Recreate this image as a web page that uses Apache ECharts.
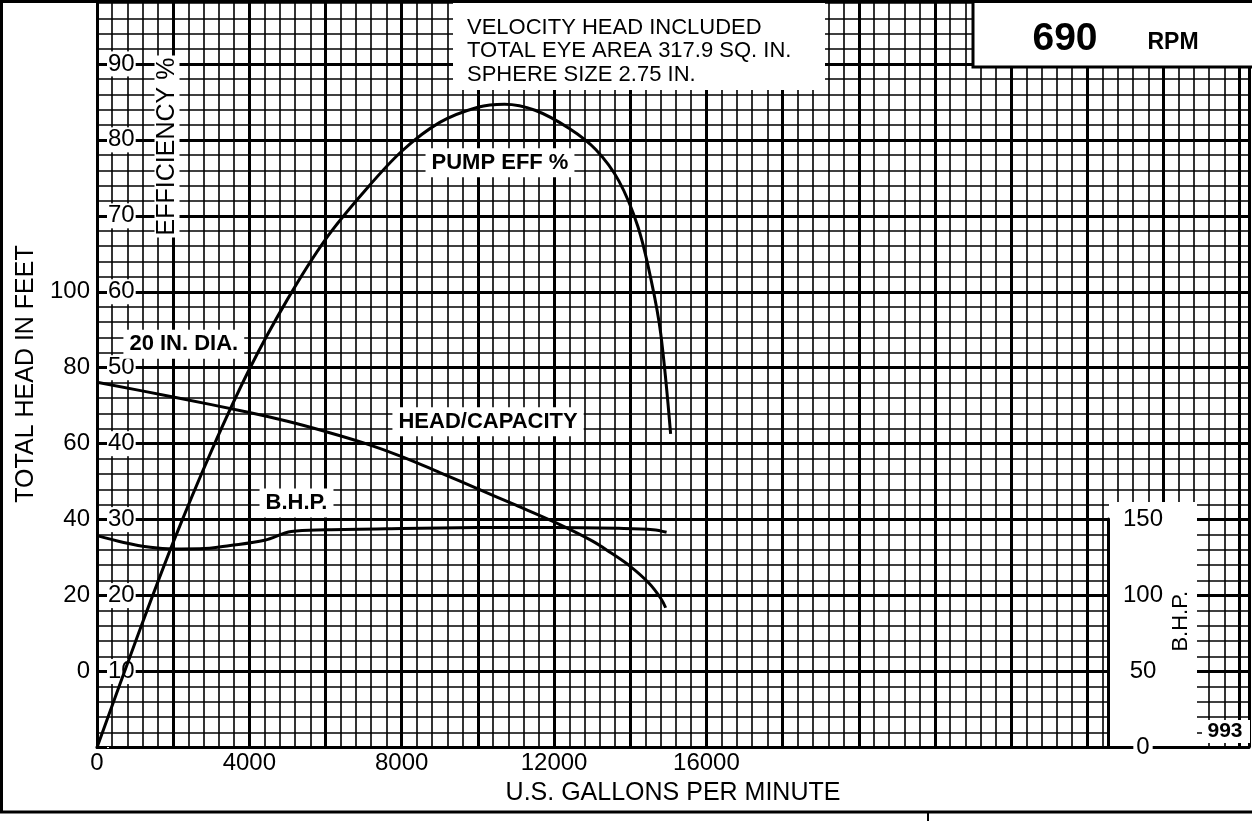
<!DOCTYPE html>
<html><head><meta charset="utf-8">
<script src="https://cdn.jsdelivr.net/npm/echarts@6/dist/echarts.min.js"></script>
<style>html,body{margin:0;padding:0;background:#fff}#c{width:1252px;height:821px}</style>
</head><body><div id="c"></div>
<script>
// ---- tick labels ----
const gpmTicks = [0, 4000, 8000, 12000, 16000];
const headTicks = [0, 20, 40, 60, 80, 100];
const effTicks = [10, 20, 30, 40, 50, 60, 70, 80, 90];
const bhpTicks = [0, 50, 100, 150];

// ---- curves: [US gallons per minute, value] ----
const effCurve = [[0,0],[1000,13.8],[2000,27.0],[3000,39.0],[4000,49.8],[5000,59.0],[6000,66.9],[7000,73.1],[8000,78.5],[9000,82.3],[10000,84.3],[10700,84.7],[11500,83.9],[12400,81.5],[13100,78.7],[13700,74.6],[14200,68.6],[14550,61.5],[14800,54.5],[15060,41.3]];
const headCurve = [[0,76.2],[2000,72.3],[4000,68.2],[5000,65.9],[6000,63.2],[7000,60.2],[8000,56.6],[9000,52.4],[10000,48.1],[11000,43.8],[12000,39.4],[13000,34.4],[13500,31.2],[14000,27.7],[14500,23.2],[14800,19.3],[14930,16.8]];
const bhpCurve = [[0,139.5],[700,135.0],[1400,131.8],[2000,130.7],[2700,130.8],[3500,133.0],[4400,136.4],[5100,142.2],[6000,143.3],[8000,144.2],[10000,144.8],[12000,144.9],[13700,144.3],[14600,143.4],[14954,141.7]];

// ---- texts ----
const notes = ['VELOCITY HEAD INCLUDED', 'TOTAL EYE AREA 317.9 SQ. IN.', 'SPHERE SIZE 2.75 IN.'];
const rpmValue = '690';
const rpmUnit = 'RPM';
const diaLabel = '20 IN. DIA.';
const modelNo = '993';

// ---- axis extents (scale only) ----
const GPM_MAX = 30245;
const EFF_MAX = 98.35;
const HEAD_MIN = -20, HEAD_MAX = EFF_MAX * 2 - 20;
const BHP_MAX = EFF_MAX * 5;

const FONT = "'Liberation Sans', Arial, Helvetica, sans-serif";
const black = '#000';

const chart = echarts.init(document.getElementById('c'), null, {renderer: 'canvas'});

function labelPoint(items) {
  return {
    symbol: 'rect', symbolSize: [1, 1], itemStyle: {color: 'rgba(0,0,0,0)'},
    label: {show: true, position: 'inside', formatter: '{b}', color: black, fontFamily: FONT,
      fontSize: 22, fontWeight: 'bold', backgroundColor: '#fff', padding: [4, 6, 3, 6]},
    data: items
  };
}

const option = {
  backgroundColor: '#fff',
  animation: false,
  textStyle: {fontFamily: FONT, color: black},
  grid: [
    {left: 97, right: 0, top: 0, bottom: 73.5, containLabel: false},
    {left: 1000, right: 144, top: 519, bottom: 73.5, containLabel: false}
  ],
  xAxis: [
    {type: 'value', gridIndex: 0, position: 'bottom', min: 0, max: GPM_MAX, interval: 4000,
      axisLine: {show: true, onZero: false, lineStyle: {color: black, width: 3}},
      axisTick: {show: false}, splitLine: {show: false},
      axisLabel: {fontSize: 24, color: black, fontFamily: FONT, margin: 4,
        formatter: v => gpmTicks.includes(v) ? String(v) : ''},
      name: 'U.S. GALLONS PER MINUTE', nameLocation: 'middle', nameGap: 33,
      nameTextStyle: {fontSize: 25, color: black, fontFamily: FONT}},
    {type: 'value', gridIndex: 0, position: 'top', min: 0, max: GPM_MAX, interval: 400,
      axisLine: {show: false}, axisTick: {show: false}, axisLabel: {show: false},
      splitLine: {show: true, lineStyle: {color: black, width: 1.6}}},
    {type: 'value', gridIndex: 0, position: 'top', min: 0, max: GPM_MAX, interval: 2000,
      axisLine: {show: false}, axisTick: {show: false}, axisLabel: {show: false},
      splitLine: {show: true, lineStyle: {color: black, width: 3}}},
    {type: 'value', gridIndex: 1, min: 0, max: 1, show: false}
  ],
  yAxis: [
    {type: 'value', gridIndex: 0, position: 'left', min: HEAD_MIN, max: HEAD_MAX, interval: 20,
      axisLine: {show: true, onZero: false, lineStyle: {color: black, width: 3}},
      axisTick: {show: false},
      splitLine: {show: true, lineStyle: {color: black, width: 3}},
      axisLabel: {fontSize: 24, color: black, fontFamily: FONT, margin: 7,
        formatter: v => headTicks.includes(v) ? String(v) : ''},
      name: 'TOTAL HEAD IN FEET', nameLocation: 'middle', nameGap: 52, nameRotate: 90,
      nameTextStyle: {fontSize: 25, color: black, fontFamily: FONT}},
    {type: 'value', gridIndex: 0, position: 'left', min: 0, max: EFF_MAX, interval: 2,
      axisLine: {show: false}, axisTick: {show: false}, axisLabel: {show: false},
      splitLine: {show: true, lineStyle: {color: black, width: 1.6}}},
    {type: 'value', gridIndex: 0, position: 'left', min: 0, max: EFF_MAX, interval: 10, z: 1,
      axisLine: {show: false}, axisTick: {show: false}, splitLine: {show: false},
      axisLabel: {inside: true, margin: 10, fontSize: 24, color: black, fontFamily: FONT,
        backgroundColor: '#fff', padding: [1, 1, 0, 1],
        formatter: v => effTicks.includes(v) ? String(v) : ''}},
    {type: 'value', gridIndex: 0, min: 0, max: BHP_MAX, show: false},
    {type: 'value', gridIndex: 1, position: 'right', min: 0, max: 150, interval: 50, z: 5,
      axisLine: {show: true, onZero: false, lineStyle: {color: black, width: 3}},
      axisTick: {show: true, inside: true, length: 15, lineStyle: {color: black, width: 3}},
      splitLine: {show: false},
      axisLabel: {align: 'center', margin: 35, fontSize: 24, color: black, fontFamily: FONT,
        backgroundColor: '#fff', padding: [0, 3],
        formatter: v => bhpTicks.includes(v) ? String(v) : ''},
      name: 'B.H.P.', nameLocation: 'middle', nameGap: 61, nameRotate: 90,
      nameTextStyle: {fontSize: 22, color: black, fontFamily: FONT, padding: [0, 0, 0, 24]}}
  ],
  series: [
    {type: 'line', name: 'PUMP EFF %', xAxisIndex: 0, yAxisIndex: 1, data: effCurve,
      smooth: 0.35, symbol: 'none', z: 2,
      lineStyle: {color: black, width: 3},
      markPoint: labelPoint([{name: 'PUMP EFF %', coord: [10580, 77.0]}])},
    {type: 'line', name: 'HEAD/CAPACITY', xAxisIndex: 0, yAxisIndex: 0, data: headCurve,
      smooth: 0.35, symbol: 'none', z: 2,
      lineStyle: {color: black, width: 3},
      markPoint: labelPoint([{name: 'HEAD/CAPACITY', coord: [10267, 65.8]}, {name: diaLabel, coord: [2279, 86.2]}])},
    {type: 'line', name: 'B.H.P.', xAxisIndex: 0, yAxisIndex: 3, data: bhpCurve,
      smooth: 0.35, symbol: 'none', z: 2,
      lineStyle: {color: black, width: 3},
      markPoint: labelPoint([{name: 'B.H.P.', coord: [5238, 160.9]}])}
  ],
  graphic: [
    {type: 'rect', z: 1, shape: {x: 453, y: 0, width: 372, height: 90}, style: {fill: '#fff'}},
    {type: 'text', z: 2, x: 467, y: 27.5, style: {text: notes[0], fontSize: 22, fontFamily: FONT, fill: black, verticalAlign: 'middle'}},
    {type: 'text', z: 2, x: 467, y: 51, style: {text: notes[1], fontSize: 22, fontFamily: FONT, fill: black, verticalAlign: 'middle'}},
    {type: 'text', z: 2, x: 467, y: 74.5, style: {text: notes[2], fontSize: 22, fontFamily: FONT, fill: black, verticalAlign: 'middle'}},
    {type: 'rect', z: 1, shape: {x: 973, y: -4, width: 284, height: 71}, style: {fill: '#fff', stroke: black, lineWidth: 3}},
    {type: 'text', z: 2, x: 1065, y: 39, style: {text: rpmValue, fontSize: 39, fontWeight: 'bold', fontFamily: FONT, fill: black, align: 'center', verticalAlign: 'middle'}},
    {type: 'text', z: 2, x: 1173, y: 42.5, style: {text: rpmUnit, fontSize: 23, fontWeight: 'bold', fontFamily: FONT, fill: black, align: 'center', verticalAlign: 'middle'}},
    {type: 'text', z: 2, x: 167, y: 146.5, rotation: Math.PI / 2,
      style: {text: 'EFFICIENCY %', fontSize: 25, fontFamily: FONT, fill: black, align: 'center', verticalAlign: 'middle', backgroundColor: '#fff', padding: [0, 2]}},
    {type: 'rect', z: 1, shape: {x: 1109, y: 502, width: 88, height: 244}, style: {fill: '#fff'}},
    {type: 'rect', z: 1, shape: {x: 1202, y: 720, width: 48, height: 23}, style: {fill: '#fff'}},
    {type: 'text', z: 2, x: 1225, y: 731.5, style: {text: modelNo, fontSize: 21, fontWeight: 'bold', fontFamily: FONT, fill: black, align: 'center', verticalAlign: 'middle'}},
    {type: 'line', z: 3, shape: {x1: 0, y1: 1.5, x2: 1252, y2: 1.5}, style: {stroke: black, lineWidth: 3}},
    {type: 'line', z: 3, shape: {x1: 1.5, y1: 0, x2: 1.5, y2: 813}, style: {stroke: black, lineWidth: 3}},
    {type: 'line', z: 3, shape: {x1: 0, y1: 812, x2: 1252, y2: 812}, style: {stroke: black, lineWidth: 3}},
    {type: 'line', z: 3, shape: {x1: 928, y1: 812, x2: 928, y2: 821}, style: {stroke: black, lineWidth: 2}}
  ]
};
chart.setOption(option);
</script></body></html>
